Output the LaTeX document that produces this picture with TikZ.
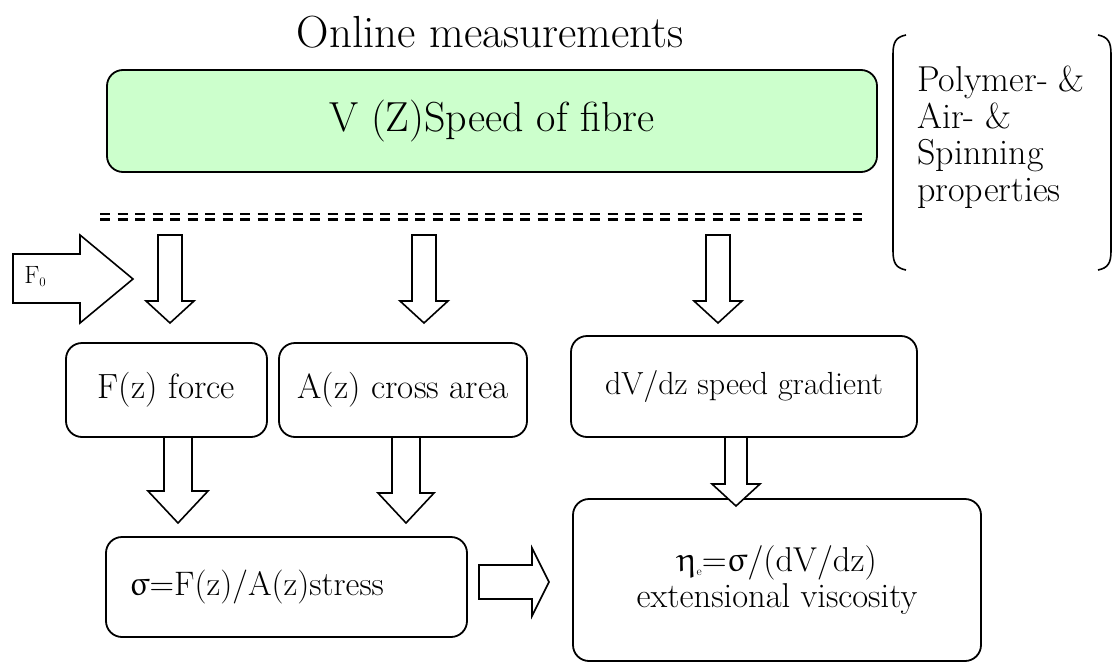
\documentclass[tikz,border=0pt]{standalone}
\usepackage{upgreek}
\definecolor{lightgreen}{HTML}{CCFFCC}
\newcommand{\blkdn}[6]{\draw[blk] (#1-#4,#2) -- (#1+#4,#2) -- (#1+#4,#3-#6) -- (#1+#5,#3-#6) -- (#1,#3) -- (#1-#5,#3-#6) -- (#1-#4,#3-#6) -- cycle;}
\begin{document}
\begin{tikzpicture}[x=1pt,y=-1pt,
  box/.style={draw, line width=1.8pt, rounded corners=16pt, inner sep=0pt, align=center},
  blk/.style={draw, line width=1.6pt, fill=white, line join=miter},
  txt/.style={font=\fontsize{35}{38}\selectfont},
  dline/.style={line width=2.2pt, dash pattern=on 10pt off 7.5pt}]
\useasboundingbox (0,0) rectangle (1117,664);

% title
\node[font=\fontsize{45}{50}\selectfont] (title) at (490,32) {Online measurements};

% top green box
\node[box, fill=lightgreen, minimum width=770, minimum height=102, font=\fontsize{42}{46}\selectfont] (vz) at (492,121) {V (Z)Speed of fibre};

% properties bracket text
\node[anchor=north west, align=left, inner sep=0pt, font=\fontsize{36}{36.5}\selectfont] (props) at (917,66) {Polymer- \&\\Air- \&\\Spinning\\properties};
\draw[line width=1.6pt] (906,35) .. controls (896,37) and (893,42) .. (893,54) -- (893,251) .. controls (893,263) and (896,268) .. (906,270);
\draw[line width=1.6pt] (1098,35) .. controls (1108,37) and (1111,42) .. (1111,54) -- (1111,251) .. controls (1111,263) and (1108,268) .. (1098,270);

% dashed double line
\coordinate (dl1) at (100,214);
\coordinate (dr1) at (862,214);
\coordinate (dl2) at (100,219.5);
\coordinate (dr2) at (862,219.5);
\draw[dline] (dl1) -- (dr1);
\draw[dline] (dl2) -- (dr2);

% F0 arrow
\draw[blk] (13,254) -- (80,254) -- (80,235) -- (133,279) -- (80,323) -- (80,303) -- (13,303) -- cycle;
\node[font=\fontsize{25}{27}\selectfont, inner sep=0pt] (f0) at (35,277) {F\raisebox{-0.3ex}{\fontsize{13}{13}\selectfont 0}};

% top down arrows
\blkdn{170}{235}{323}{12}{24}{22}
\blkdn{424}{235}{323}{12}{24}{22}
\blkdn{718}{235}{323}{12}{24}{22}

% middle row boxes
\node[box, txt, minimum width=201, minimum height=94] (fz) at (166.5,390) {F(z) force};
\node[box, txt, minimum width=248, minimum height=94] (az) at (403,390) {A(z) cross area};
\node[box, font=\fontsize{32}{36}\selectfont, minimum width=346, minimum height=101] (dv) at (744,386.5) {dV/dz speed gradient};

% bottom boxes
\node[box, font=\fontsize{34}{38}\selectfont, minimum width=361, minimum height=100, text width=315, inner xsep=23pt, align=left] (sig) at (286.5,587) {$\upsigma$=F(z)/A(z)stress};
\node[box, minimum width=408, minimum height=162, font=\fontsize{34.5}{36}\selectfont] (eta) at (777,580) {$\upeta$\raisebox{-0.3ex}{\fontsize{12}{12}\selectfont e}=$\upsigma$/(dV/dz)\\extensional viscosity};

% lower down arrows
\blkdn{178}{437}{523}{14}{30}{32}
\blkdn{406}{437}{523}{14}{28}{30}
\blkdn{736}{437}{506}{11}{24}{22}

% right arrow
\draw[blk] (479,565) -- (532,565) -- (532,548) -- (549,582) -- (532,616) -- (532,599) -- (479,599) -- cycle;
\end{tikzpicture}
\end{document}
